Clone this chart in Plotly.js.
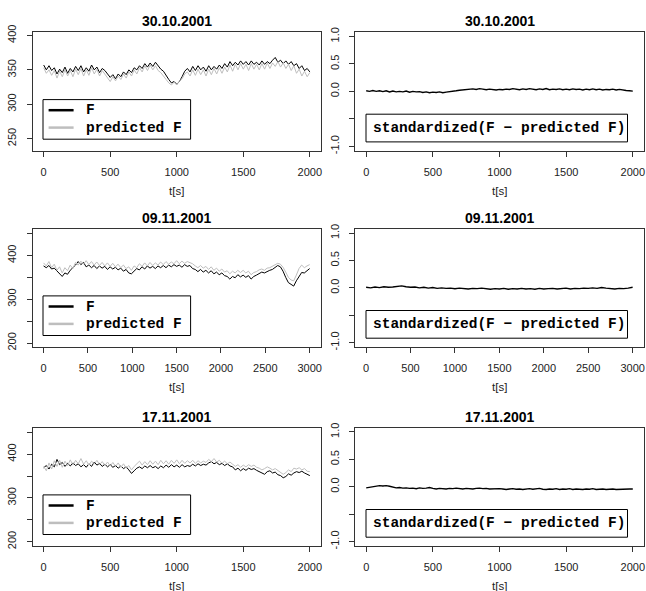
<!DOCTYPE html>
<html><head><meta charset="utf-8">
<script src="https://cdn.plot.ly/plotly-3.0.1.min.js"></script>
<style>body{margin:0;background:#fff}#chart{width:646px;height:591px}</style>
</head><body><div id="chart"></div>
<script>
// ---------- data ----------
const titles = ["30.10.2001", "09.11.2001", "17.11.2001"];
const t20 = [0,20,40,60,80,100,120,140,160,180,200,220,240,260,280,300,320,340,360,380,400,420,440,460,480,500,520,540,560,580,600,620,640,660,680,700,720,740,760,780,800,820,840,860,880,900,920,940,960,980,1000,1020,1040,1060,1080,1100,1120,1140,1160,1180,1200,1220,1240,1260,1280,1300,1320,1340,1360,1380,1400,1420,1440,1460,1480,1500,1520,1540,1560,1580,1600,1620,1640,1660,1680,1700,1720,1740,1760,1780,1800,1820,1840,1860,1880,1900,1920,1940,1960,1980,2000];
const t30 = [0,30,60,90,120,150,180,210,240,270,300,330,360,390,420,450,480,510,540,570,600,630,660,690,720,750,780,810,840,870,900,930,960,990,1020,1050,1080,1110,1140,1170,1200,1230,1260,1290,1320,1350,1380,1410,1440,1470,1500,1530,1560,1590,1620,1650,1680,1710,1740,1770,1800,1830,1860,1890,1920,1950,1980,2010,2040,2070,2100,2130,2160,2190,2220,2250,2280,2310,2340,2370,2400,2430,2460,2490,2520,2550,2580,2610,2640,2670,2700,2730,2760,2790,2820,2850,2880,2910,2940,2970,3000];
const t25 = [0,25,50,75,100,125,150,175,200,225,250,275,300,325,350,375,400,425,450,475,500,525,550,575,600,625,650,675,700,725,750,775,800,825,850,875,900,925,950,975,1000,1025,1050,1075,1100,1125,1150,1175,1200,1225,1250,1275,1300,1325,1350,1375,1400,1425,1450,1475,1500,1525,1550,1575,1600,1625,1650,1675,1700,1725,1750,1775,1800,1825,1850,1875,1900,1925,1950,1975,2000];
const t50 = [0,50,100,150,200,250,300,350,400,450,500,550,600,650,700,750,800,850,900,950,1000,1050,1100,1150,1200,1250,1300,1350,1400,1450,1500,1550,1600,1650,1700,1750,1800,1850,1900,1950,2000,2050,2100,2150,2200,2250,2300,2350,2400,2450,2500,2550,2600,2650,2700,2750,2800,2850,2900,2950,3000];

// 30.10.2001
const F1 = [357,350,356,349,353,344,351,346,354,345,352,347,355,349,356,347,353,348,357,350,354,346,352,349,344,339,343,337,344,340,347,343,350,346,353,350,356,352,359,354,360,355,361,356,351,348,341,336,331,333,329,333,340,348,352,347,355,349,356,350,354,348,356,350,355,351,357,352,359,354,362,356,361,357,363,358,362,357,363,358,361,357,363,358,362,359,364,368,361,364,359,363,358,362,356,359,352,356,349,352,347];
const P1 = [353,345,350,342,349,338,348,340,350,341,349,340,351,343,352,341,350,342,353,344,351,341,349,343,339,333,340,334,341,336,344,338,347,341,350,344,353,347,356,349,357,350,356,349,346,340,336,331,328,332,328,334,337,344,347,341,350,342,351,343,350,341,351,343,352,344,353,345,354,347,357,348,358,350,359,351,358,349,359,351,358,350,359,351,360,352,360,355,362,354,360,352,358,349,356,345,351,341,348,340,346];
const R1 = [0.01,0.0,0.015,0.0,0.01,-0.005,0.01,-0.01,0.005,-0.01,0.0,-0.01,0.005,-0.015,0.0,-0.01,-0.005,-0.02,-0.01,-0.025,-0.015,-0.02,-0.01,-0.025,-0.015,-0.01,0.0,0.01,0.02,0.025,0.035,0.03,0.045,0.035,0.05,0.04,0.03,0.04,0.035,0.025,0.035,0.03,0.04,0.035,0.05,0.04,0.03,0.045,0.035,0.05,0.04,0.03,0.045,0.035,0.05,0.03,0.04,0.035,0.045,0.03,0.04,0.03,0.045,0.035,0.04,0.025,0.04,0.03,0.045,0.03,0.04,0.025,0.035,0.03,0.04,0.025,0.035,0.02,0.015,0.01,0.005];

// 09.11.2001
const F2 = [376,372,377,369,371,364,358,352,360,357,366,371,378,386,379,384,374,378,372,377,370,376,371,375,368,374,369,373,367,371,364,368,360,358,365,370,367,374,369,376,371,375,370,376,372,377,372,378,374,379,375,378,373,379,375,377,370,368,363,368,362,366,360,365,358,362,356,360,354,352,346,352,349,356,351,355,350,354,346,352,355,359,362,360,364,366,368,372,377,374,364,350,338,334,330,342,352,361,360,364,370];
const P2 = [383,376,386,372,380,366,374,360,372,365,378,370,384,378,387,380,388,379,386,378,385,377,384,376,383,375,382,374,380,372,378,370,374,366,376,372,381,375,383,376,384,377,383,378,385,379,386,380,385,381,388,381,387,382,386,383,381,376,372,377,371,375,368,374,366,371,364,369,362,365,358,364,360,366,361,366,360,364,356,361,363,367,369,366,371,372,376,378,382,380,373,362,350,344,342,355,370,378,372,376,379];
const R2 = [0.01,0.0,0.015,0.005,0.02,0.01,0.015,0.025,0.035,0.02,0.01,0.015,0.0,0.01,-0.005,0.005,-0.01,0.0,-0.01,-0.005,-0.015,-0.005,-0.01,-0.02,-0.01,-0.015,-0.005,-0.02,-0.025,-0.015,-0.02,-0.01,-0.025,-0.015,-0.02,-0.01,-0.02,-0.015,-0.025,-0.01,-0.02,-0.015,-0.01,-0.02,-0.015,-0.005,-0.02,-0.01,-0.015,-0.005,-0.01,0.0,-0.01,0.005,-0.005,-0.015,-0.02,-0.01,-0.015,-0.005,0.01];

// 17.11.2001
const F3 = [369,374,366,377,371,388,376,381,372,379,373,380,374,378,371,376,370,378,372,382,375,379,372,377,371,376,370,374,368,373,367,371,364,356,362,368,371,367,373,369,374,369,372,367,373,369,375,370,376,371,375,370,376,371,374,372,377,373,378,374,377,375,380,383,378,381,376,379,374,378,373,371,364,368,362,367,363,368,365,367,363,360,356,354,360,362,357,359,353,351,346,349,355,352,357,360,358,361,357,354,351];
const P3 = [372,362,380,366,385,372,386,370,384,374,387,375,386,378,390,377,385,375,384,378,386,376,383,374,382,373,381,372,380,370,378,368,374,364,372,378,384,375,383,376,385,377,384,376,386,378,385,377,386,379,387,378,386,379,385,380,386,379,385,380,384,381,388,383,390,382,386,379,384,378,382,377,372,376,370,375,371,376,372,375,370,368,364,367,371,368,364,367,362,358,354,358,364,360,368,366,369,364,367,361,360];
const R3 = [-0.02,-0.01,0.01,0.015,0.02,0.015,0.02,0.01,-0.01,-0.02,-0.015,-0.025,-0.02,-0.03,-0.025,-0.035,-0.02,-0.03,-0.025,-0.015,-0.03,-0.04,-0.03,-0.035,-0.04,-0.03,-0.035,-0.025,-0.035,-0.04,-0.03,-0.035,-0.04,-0.03,-0.025,-0.035,-0.03,-0.04,-0.035,-0.03,-0.035,-0.04,-0.05,-0.04,-0.035,-0.045,-0.04,-0.05,-0.04,-0.035,-0.045,-0.04,-0.03,-0.045,-0.05,-0.04,-0.045,-0.035,-0.05,-0.04,-0.045,-0.035,-0.05,-0.04,-0.045,-0.05,-0.04,-0.045,-0.035,-0.05,-0.045,-0.04,-0.05,-0.045,-0.04,-0.05,-0.045,-0.04,-0.045,-0.04,-0.04];

const legF = "F", legP = "predicted F", legR = "standardized(F \u2212 predicted F)";
const xTitle = "t[s]";

// ---------- layout geometry (pixels) ----------
const W = 646, H = 591;
const px = x => x / W, py = y => 1 - y / H;
const boxes = [
  {L:32.5, R:321, T:32,    B:150.7},
  {L:355,  R:644, T:32,    B:150.7},
  {L:32.5, R:321, T:228.7, B:347},
  {L:355,  R:644, T:228.7, B:347},
  {L:32.5, R:321, T:427.5, B:546},
  {L:355,  R:644, T:427.5, B:546}
];
const GRAY = "#bebebe", LC = "#333";
const tickFont = {family:"Liberation Sans, Arial, sans-serif", size:11, color:"#222"};
const monoFont = {family:"Liberation Mono, DejaVu Sans Mono, monospace", size:14.5, color:"#000", weight:"bold"};

const xs = [[t20,t25],[t30,t50],[t20,t25]];
const Fs = [F1,F2,F3], Ps = [P1,P2,P3], Rs = [R1,R2,R3];
const xRanges = [[-84,2084],[-125,3128],[-84,2084]];
const xTicks = [[0,500,1000,1500,2000],[0,500,1000,1500,2000,2500,3000],[0,500,1000,1500,2000]];
const yLeft = [
  {range:[232.5,405], vals:[250,300,350,400], text:["250","300","350","400"]},
  {range:[191,461], vals:[200,250,300,350,400,450], text:["200","","300","","400",""]},
  {range:[190,461], vals:[200,250,300,350,400,450], text:["200","","300","","400",""]}
];
const yRight = {range:[-1.08,1.08], vals:[-1,-0.5,0,0.5,1], text:["-1.0","","0.0","0.5","1.0"]};

const traces = [], layout = {
  width:W, height:H, autosize:false, showlegend:false,
  margin:{l:0,r:0,t:0,b:0}, paper_bgcolor:"#fff", plot_bgcolor:"#fff",
  annotations:[], shapes:[]
};

for (let r = 0; r < 3; r++) {
  for (let c = 0; c < 2; c++) {
    const i = r*2 + c, n = i + 1, b = boxes[i];
    const xa = "xaxis" + (n===1?"":n), ya = "yaxis" + (n===1?"":n);
    const xr = "x" + (n===1?"":n), yr = "y" + (n===1?"":n);
    layout[xa] = {
      domain:[px(b.L), px(b.R)], anchor:yr, range:xRanges[r],
      tickvals:xTicks[r], ticktext:xTicks[r].map(String),
      ticks:"outside", ticklen:5, tickcolor:LC, tickwidth:1,
      showline:true, mirror:true, linecolor:LC, linewidth:1,
      showgrid:false, zeroline:false, tickfont:tickFont, ticklabelstandoff:6
    };
    const yl = c===0 ? yLeft[r] : yRight;
    layout[ya] = {
      domain:[py(b.B), py(b.T)], anchor:xr, range:yl.range,
      tickvals:yl.vals, ticktext:yl.text, tickangle:-90,
      ticks:"outside", ticklen:5, tickcolor:LC, tickwidth:1,
      showline:true, mirror:true, linecolor:LC, linewidth:1,
      showgrid:false, zeroline:false, tickfont:tickFont, ticklabelstandoff:6
    };
    if (c === 0) {
      traces.push({x:xs[r][0], y:Fs[r], xaxis:xr, yaxis:yr, mode:"lines", line:{color:"#000", width:1}, hoverinfo:"skip"});
      traces.push({x:xs[r][0], y:Ps[r], xaxis:xr, yaxis:yr, mode:"lines", line:{color:GRAY, width:1}, hoverinfo:"skip"});
      const lx = b.L + 10.5, lb = b.B - 11.5, lt = lb - 39.6, lr = lx + 147.6;
      layout.shapes.push({type:"rect", xref:"paper", yref:"paper", x0:px(lx), x1:px(lr), y0:py(lb), y1:py(lt), line:{color:"#000", width:1}, fillcolor:"rgba(0,0,0,0)"});
      layout.shapes.push({type:"line", xref:"paper", yref:"paper", x0:px(lx+5.6), x1:px(lx+30.6), y0:py(lt+10.6), y1:py(lt+10.6), line:{color:"#000", width:2.5}});
      layout.shapes.push({type:"line", xref:"paper", yref:"paper", x0:px(lx+5.6), x1:px(lx+30.6), y0:py(lt+28), y1:py(lt+28), line:{color:GRAY, width:2.5}});
      layout.annotations.push({text:legF, xref:"paper", yref:"paper", x:px(lx+40.6), y:py(lt+10.6), xanchor:"left", yanchor:"middle", showarrow:false, font:monoFont});
      layout.annotations.push({text:legP, xref:"paper", yref:"paper", x:px(lx+40.6), y:py(lt+28), xanchor:"left", yanchor:"middle", showarrow:false, font:monoFont});
    } else {
      traces.push({x:xs[r][1], y:Rs[r], xaxis:xr, yaxis:yr, mode:"lines", line:{color:"#000", width:1.4}, hoverinfo:"skip"});
      const lx = b.L + 11, lb = b.B - 8.8, lt = lb - 27.7, lr = lx + 261.5;
      layout.shapes.push({type:"rect", xref:"paper", yref:"paper", x0:px(lx), x1:px(lr), y0:py(lb), y1:py(lt), line:{color:"#000", width:1}, fillcolor:"rgba(0,0,0,0)"});
      layout.annotations.push({text:legR, xref:"paper", yref:"paper", x:px(lx+5), y:py(lt+13.8), xanchor:"left", yanchor:"middle", showarrow:false, font:monoFont});
    }
    layout.annotations.push({text:titles[r], xref:"paper", yref:"paper", x:px((b.L+b.R)/2), y:py(b.T-10.5), xanchor:"center", yanchor:"middle", showarrow:false,
      font:{family:"Liberation Sans, Arial, sans-serif", size:14, color:"#000", weight:"bold"}});
    layout.annotations.push({text:xTitle, xref:"paper", yref:"paper", x:px((b.L+b.R)/2), y:py(b.B+40), xanchor:"center", yanchor:"middle", showarrow:false,
      font:{family:"Liberation Sans, Arial, sans-serif", size:11.5, color:"#222"}});
  }
}

Plotly.newPlot("chart", traces, layout, {staticPlot:true, displayModeBar:false});
</script>
</body></html>
